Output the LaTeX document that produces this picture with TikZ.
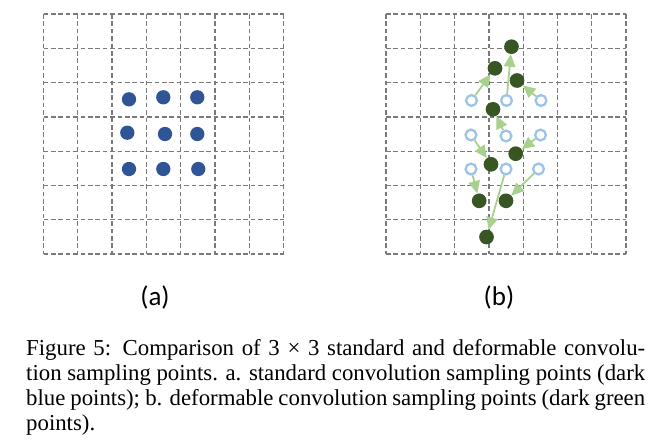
\documentclass[tikz,border=0pt]{standalone}
\usepackage{fontspec}
\setmainfont{Liberation Serif}
\newfontfamily\panelfont{Carlito}
\usetikzlibrary{arrows.meta}

\definecolor{gridgray}{HTML}{7A7A7A}
\definecolor{dotblue}{HTML}{2F5597}
\definecolor{ringblue}{HTML}{9DC3E6}
\definecolor{dotgreen}{HTML}{375623}
\definecolor{arrowgreen}{HTML}{A9D18E}

\tikzset{
  gridline/.style={draw=gridgray, line width=1.3pt, dash pattern=on 4.6pt off 2.8pt},
  bluedot/.style={circle, fill=dotblue, inner sep=0pt, minimum size=14.3pt},
  ringdot/.style={circle, draw=ringblue, line width=2.3pt, inner sep=0pt, minimum size=10.8pt},
  greendot/.style={circle, fill=dotgreen, inner sep=0pt, minimum size=14.7pt},
  offset/.style={draw=arrowgreen, line width=1.8pt, -{Triangle[length=12.5pt,width=11.5pt]}},
  panellabel/.style={font=\panelfont\fontsize{27}{30}\selectfont, inner sep=0pt},
  captiontext/.style={text width=619pt, align=justify, inner sep=0pt,
    font=\fontsize{22.8}{24.8}\selectfont},
}

\begin{document}
\begin{tikzpicture}[x=1pt, y=-1pt]
    \useasboundingbox (0,0) rectangle (655,447);
    % two 7 x 7 dashed grids, (a) and (b)
    \foreach \gx in {43.5,386} {
      \foreach \k in {0,...,7} {
        \draw[gridline] (\gx+34.3*\k,14) -- ++(0,240.1);
        \draw[gridline] (\gx,14+34.3*\k) -- ++(240.1,0);
      }
    }
    % (a) regular 3 x 3 sampling points
    \node[bluedot] (a11) at (129,99.3) {};
    \node[bluedot] (a12) at (163.3,97.3) {};
    \node[bluedot] (a13) at (197.3,97.3) {};
    \node[bluedot] (a21) at (127.3,132.7) {};
    \node[bluedot] (a22) at (165,134) {};
    \node[bluedot] (a23) at (197.3,134) {};
    \node[bluedot] (a31) at (129,169) {};
    \node[bluedot] (a32) at (163.3,169) {};
    \node[bluedot] (a33) at (198.3,169) {};
    % (b) regular positions (rings)
    \node[ringdot] (r11) at (471.5,100.5) {};
    \node[ringdot] (r12) at (506.5,100.5) {};
    \node[ringdot] (r13) at (541,100.5) {};
    \node[ringdot] (r21) at (471,135) {};
    \node[ringdot] (r22) at (506,136) {};
    \node[ringdot] (r23) at (540.5,135) {};
    \node[ringdot] (r31) at (471,169) {};
    \node[ringdot] (r32) at (506,169) {};
    \node[ringdot] (r33) at (538.5,169) {};
    % (b) deformed sampling points
    \node[greendot] (g1) at (511.5,46.7) {};
    \node[greendot] (g2) at (495,68.3) {};
    \node[greendot] (g3) at (517,80.5) {};
    \node[greendot] (g4) at (493,109.3) {};
    \node[greendot] (g5) at (515.7,153.7) {};
    \node[greendot] (g6) at (491,164.3) {};
    \node[greendot] (g7) at (479.2,200.8) {};
    \node[greendot] (g8) at (506,200.8) {};
    \node[greendot] (g9) at (486.5,237) {};
    % offsets
    \draw[offset] (r11) -- (g2);
    \draw[offset] (r12) -- (g1);
    \draw[offset] (r13) -- (g3);
    \draw[offset] (r21) -- (g6);
    \draw[offset] (r22) -- (g4);
    \draw[offset] (r23) -- (g5);
    \draw[offset] (r31) -- (g7);
    \draw[offset] (r32) -- (g9);
    \draw[offset] (r33) -- (g8);
    % panel labels
    \node[panellabel] (laba) at (155,297) {(a)};
    \node[panellabel] (labb) at (499,297) {(b)};
    % caption
    \node[captiontext, anchor=north west] (cap) at (26,338.3) {\strut Figure 5: Comparison of 3 × 3 standard and deformable convolu-\linebreak tion sampling points. a. standard convolution sampling points (dark\linebreak blue points); b. deformable convolution sampling points (dark green\linebreak points).};
\end{tikzpicture}
\end{document}
